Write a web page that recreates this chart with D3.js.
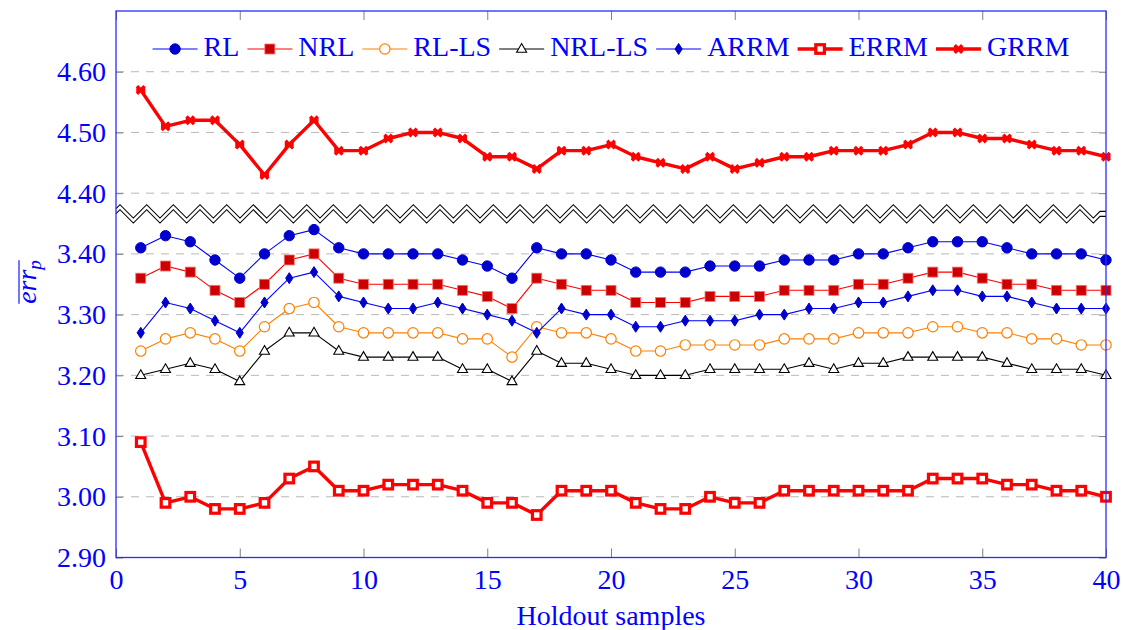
<!DOCTYPE html>
<html>
<head>
<meta charset="utf-8">
<script src="https://cdn.jsdelivr.net/npm/d3@7"></script>
<style>
  body { margin: 0; background: #fff; }
</style>
</head>
<body>
<svg id="chart" width="1123" height="630"></svg>
<script>
// holdout sample index
var samples = d3.range(1, 41);

var RL    = [3.41,3.43,3.42,3.39,3.36,3.40,3.43,3.44,3.41,3.40, 3.40,3.40,3.40,3.39,3.38,3.36,3.41,3.40,3.40,3.39,
             3.37,3.37,3.37,3.38,3.38,3.38,3.39,3.39,3.39,3.40, 3.40,3.41,3.42,3.42,3.42,3.41,3.40,3.40,3.40,3.39];
var NRL   = [3.36,3.38,3.37,3.34,3.32,3.35,3.39,3.40,3.36,3.35, 3.35,3.35,3.35,3.34,3.33,3.31,3.36,3.35,3.34,3.34,
             3.32,3.32,3.32,3.33,3.33,3.33,3.34,3.34,3.34,3.35, 3.35,3.36,3.37,3.37,3.36,3.35,3.35,3.34,3.34,3.34];
var RL_LS = [3.24,3.26,3.27,3.26,3.24,3.28,3.31,3.32,3.28,3.27, 3.27,3.27,3.27,3.26,3.26,3.23,3.28,3.27,3.27,3.26,
             3.24,3.24,3.25,3.25,3.25,3.25,3.26,3.26,3.26,3.27, 3.27,3.27,3.28,3.28,3.27,3.27,3.26,3.26,3.25,3.25];
var NRL_LS= [3.20,3.21,3.22,3.21,3.19,3.24,3.27,3.27,3.24,3.23, 3.23,3.23,3.23,3.21,3.21,3.19,3.24,3.22,3.22,3.21,
             3.20,3.20,3.20,3.21,3.21,3.21,3.21,3.22,3.21,3.22, 3.22,3.23,3.23,3.23,3.23,3.22,3.21,3.21,3.21,3.20];
var ARRM  = [3.27,3.32,3.31,3.29,3.27,3.32,3.36,3.37,3.33,3.32, 3.31,3.31,3.32,3.31,3.30,3.29,3.27,3.31,3.30,3.30,
             3.28,3.28,3.29,3.29,3.29,3.30,3.30,3.31,3.31,3.32, 3.32,3.33,3.34,3.34,3.33,3.33,3.32,3.31,3.31,3.31];
var ERRM  = [3.09,2.99,3.00,2.98,2.98,2.99,3.03,3.05,3.01,3.01, 3.02,3.02,3.02,3.01,2.99,2.99,2.97,3.01,3.01,3.01,
             2.99,2.98,2.98,3.00,2.99,2.99,3.01,3.01,3.01,3.01, 3.01,3.01,3.03,3.03,3.03,3.02,3.02,3.01,3.01,3.00];
var GRRM  = [4.57,4.51,4.52,4.52,4.48,4.43,4.48,4.52,4.47,4.47, 4.49,4.50,4.50,4.49,4.46,4.46,4.44,4.47,4.47,4.48,
             4.46,4.45,4.44,4.46,4.44,4.45,4.46,4.46,4.47,4.47, 4.47,4.48,4.50,4.50,4.49,4.49,4.48,4.47,4.47,4.46];

var xTicks = [0, 5, 10, 15, 20, 25, 30, 35, 40];
var yTicks = [2.90, 3.00, 3.10, 3.20, 3.30, 3.40, 4.40, 4.50, 4.60];

var series = [
  { name: "RL",     values: RL,     line: "#0000ff", width: 1.1, mark: "circle",  fill: "#0000cc", stroke: "#0000cc" },
  { name: "NRL",    values: NRL,    line: "#ff0000", width: 1.1, mark: "square",  fill: "#cc0000", stroke: "#ff7070" },
  { name: "RL-LS",  values: RL_LS,  line: "#ff8000", width: 1.1, mark: "ocircle", fill: "#ffffff", stroke: "#ff8000" },
  { name: "NRL-LS", values: NRL_LS, line: "#000000", width: 1.1, mark: "triangle",fill: "#ffffff", stroke: "#000000" },
  { name: "ARRM",   values: ARRM,   line: "#0000ff", width: 1.1, mark: "diamond", fill: "#0000cc", stroke: "#0000cc" },
  { name: "ERRM",   values: ERRM,   line: "#ff0000", width: 3.4, mark: "osquare", fill: "#ffffff", stroke: "#ff0000" },
  { name: "GRRM",   values: GRRM,   line: "#ff0000", width: 3.4, mark: "cross",   fill: "none",    stroke: "#ff0000" }
];

var svg = d3.select("#chart");
var plotL = 116, plotR = 1106, plotT = 11, plotB = 557.5;
var fs = 28, serifFont = "'Liberation Serif'";

// every text gets its font directly
function serif(t) {
  return t.style("font-family", serifFont).attr("font-size", fs);
}

var x = d3.scaleLinear().domain([0, 40]).range([plotL, plotR]);
// broken axis: 2.90..3.45 below the break, 4.35..4.70 above it
var yBreak = plotB - (3.45 - 2.9) / 0.9 * (plotB - plotT);
var y = d3.scaleLinear().domain([2.9, 3.45, 4.35, 4.7]).range([plotB, yBreak, yBreak, plotT]);

// grid
svg.append("g").selectAll("line")
  .data(yTicks.filter(function (d) { return d > 2.9; }))
  .join("line")
  .attr("x1", plotL).attr("x2", plotR)
  .attr("y1", function (d) { return y(d); }).attr("y2", function (d) { return y(d); })
  .attr("stroke", "#b8b8b8").attr("stroke-width", 1).attr("stroke-dasharray", "8,7");

// axes
var fmt = d3.format(".2f");
var gl = svg.append("g").attr("transform", "translate(" + plotL + ",0)")
  .call(d3.axisLeft(y).tickValues(yTicks).tickFormat(fmt).tickSize(-7).tickPadding(10));
var gr = svg.append("g").attr("transform", "translate(" + plotR + ",0)")
  .call(d3.axisRight(y).tickValues(yTicks).tickFormat("").tickSize(-7));
var gb = svg.append("g").attr("transform", "translate(0," + plotB + ")")
  .call(d3.axisBottom(x).tickValues(xTicks).tickSize(-9).tickPadding(10));
var gt = svg.append("g").attr("transform", "translate(0," + plotT + ")")
  .call(d3.axisTop(x).tickValues(xTicks).tickFormat("").tickSize(-9));

[gl, gr, gb, gt].forEach(function (g) {
  g.attr("font-family", null).attr("font-size", null);
  g.select(".domain").remove();
  g.selectAll(".tick line").attr("stroke", "#808080").attr("stroke-width", 1);
  serif(g.selectAll(".tick text")).attr("fill", "#0000ff");
});
gb.selectAll(".tick text").attr("dy", "0.75em");

// break zigzag
var zMid = y(4.37), zAmp = 6.65, zOff = 5;
function zigzag(off) {
  var pts = [[plotL, zMid - zAmp + 4 + off]];
  for (var k = 0; k <= 73; k++) {
    pts.push([120 + k * 13.333, zMid + (k % 2 === 0 ? -zAmp : zAmp) + off]);
  }
  pts.push([1100, zMid + off], [plotR, zMid + off]);
  return pts;
}
var zTop = zigzag(0), zBot = zigzag(zOff);
svg.append("path")
  .attr("d", d3.line()(zTop.concat(zBot.slice().reverse())) + "Z")
  .attr("fill", "#fff");
[zTop, zBot].forEach(function (p) {
  svg.append("path").attr("d", d3.line()(p))
    .attr("fill", "none").attr("stroke", "#000").attr("stroke-width", 1.1);
});

// markers
function drawMark(g, s, cx, cy) {
  var m;
  if (s.mark === "circle") {
    m = g.append("circle").attr("r", 5.2);
  } else if (s.mark === "ocircle") {
    m = g.append("circle").attr("r", 5.2).attr("stroke-width", 1.2);
  } else if (s.mark === "square") {
    m = g.append("rect").attr("x", -5).attr("y", -5).attr("width", 10).attr("height", 10).attr("stroke-width", 0.8);
  } else if (s.mark === "osquare") {
    m = g.append("rect").attr("x", -4.3).attr("y", -4.3).attr("width", 8.6).attr("height", 8.6).attr("stroke-width", 3.2);
  } else if (s.mark === "triangle") {
    m = g.append("path").attr("d", "M0,-5.5L5,3.2L-5,3.2Z").attr("stroke-width", 1.1);
  } else if (s.mark === "diamond") {
    m = g.append("path").attr("d", "M0,-5.5L3.6,0L0,5.5L-3.6,0Z");
  } else if (s.mark === "cross") {
    m = g.append("path").attr("d", "M-3.8,-3.8L3.8,3.8M-3.8,3.8L3.8,-3.8M-4.5,0L4.5,0").attr("stroke-width", 3.4);
  }
  m.attr("transform", "translate(" + cx + "," + cy + ")")
    .attr("fill", s.fill).attr("stroke", s.stroke);
}

var line = d3.line()
  .x(function (d, i) { return x(samples[i]); })
  .y(function (d) { return y(d); });

series.forEach(function (s) {
  var g = svg.append("g");
  g.append("path").attr("d", line(s.values))
    .attr("fill", "none").attr("stroke", s.line).attr("stroke-width", s.width)
    .attr("stroke-linejoin", "round");
  s.values.forEach(function (v, i) { drawMark(g, s, x(samples[i]), y(v)); });
});

// frame
svg.append("rect")
  .attr("x", plotL).attr("y", plotT).attr("width", plotR - plotL).attr("height", plotB - plotT)
  .attr("fill", "none").attr("stroke", "#2a2aff").attr("stroke-width", 1.3);

// legend
var lg = svg.append("g");
var cx = 0, legY = 49;
series.forEach(function (s) {
  var item = lg.append("g");
  item.append("line").attr("x1", cx).attr("x2", cx + 45).attr("y1", legY).attr("y2", legY)
    .attr("stroke", s.line).attr("stroke-width", s.width);
  drawMark(item, s, cx + 22.5, legY);
  var t = serif(item.append("text")).attr("x", cx + 51).attr("y", legY + 7)
    .attr("fill", "#0000ff").text(s.name);
  cx += 51 + t.node().getComputedTextLength() + 8;
});
var lw = cx - 8;
lg.attr("transform", "translate(" + ((plotL + plotR) / 2 - lw / 2) + ",0)");

// axis labels
serif(svg.append("text"))
  .attr("x", (plotL + plotR) / 2).attr("y", 625)
  .attr("text-anchor", "middle").attr("fill", "#0000ff")
  .text("Holdout samples");

var yl = serif(svg.append("text"))
  .attr("transform", "translate(36,282) rotate(-90)")
  .attr("text-anchor", "middle").attr("fill", "#0000ff")
  .style("font-style", "italic");
yl.append("tspan").text("err");
yl.append("tspan").attr("font-size", 19).attr("dy", 5).text("p");
var bb = yl.node().getBBox();
svg.append("line")
  .attr("transform", "translate(36,282) rotate(-90)")
  .attr("x1", bb.x).attr("x2", bb.x + bb.width)
  .attr("y1", -17).attr("y2", -17)
  .attr("stroke", "#0000ff").attr("stroke-width", 1.1);
</script>
</body>
</html>
